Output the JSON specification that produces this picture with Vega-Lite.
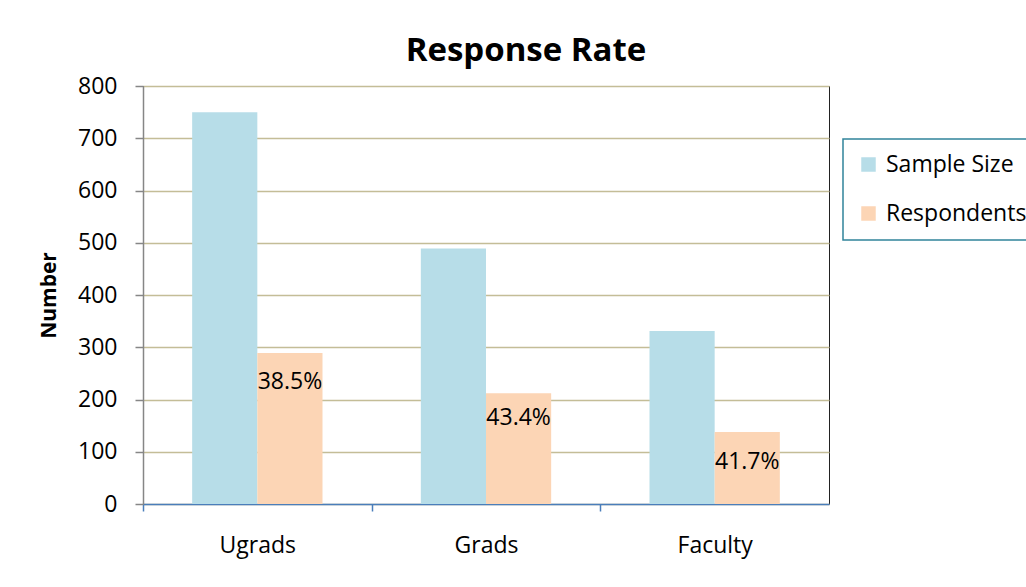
{
  "$schema": "https://vega.github.io/schema/vega-lite/v6.json",
  "autosize": "none",
  "padding": {"left": 143, "top": 86, "right": 197, "bottom": 83},
  "width": 686,
  "height": 418,
  "background": "white",
  "title": {
    "text": "Response Rate",
    "font": "Open Sans",
    "fontSize": 33,
    "fontWeight": "bold",
    "color": "black",
    "anchor": "middle",
    "dx": 40,
    "baseline": "alphabetic",
    "offset": -19
  },
  "data": {
    "values": [
      {"group": "Ugrads", "series": "Sample Size", "value": 750, "label": "", "labelAt": null},
      {"group": "Ugrads", "series": "Respondents", "value": 289, "label": "38.5%", "labelAt": 234},
      {"group": "Grads", "series": "Sample Size", "value": 489, "label": "", "labelAt": null},
      {"group": "Grads", "series": "Respondents", "value": 212, "label": "43.4%", "labelAt": 164},
      {"group": "Faculty", "series": "Sample Size", "value": 331, "label": "", "labelAt": null},
      {"group": "Faculty", "series": "Respondents", "value": 138, "label": "41.7%", "labelAt": 80}
    ]
  },
  "encoding": {
    "x": {
      "field": "group",
      "type": "nominal",
      "sort": ["Ugrads", "Grads", "Faculty"],
      "scale": {"paddingInner": 0.43, "paddingOuter": 0.215},
      "axis": {
        "title": null,
        "labelAngle": 0,
        "labelFont": "Open Sans",
        "labelFontSize": 23,
        "labelColor": "black",
        "labelPadding": 23,
        "domainColor": "#4A7EBB",
        "domainWidth": 1.5,
        "tickColor": "#4A7EBB",
        "tickWidth": 1.5,
        "tickSize": 7,
        "tickOffset": -114.33,
        "labelOffset": 114.33
      }
    },
    "xOffset": {
      "field": "series",
      "type": "nominal",
      "sort": ["Sample Size", "Respondents"],
      "scale": {"domain": ["Sample Size", "Respondents"], "paddingInner": 0, "paddingOuter": 0}
    }
  },
  "layer": [
    {
      "mark": {"type": "bar"},
      "encoding": {
        "y": {
          "field": "value",
          "type": "quantitative",
          "scale": {"domain": [0, 800], "nice": false},
          "axis": {
            "title": "Number",
            "titleFont": "Open Sans",
            "titleFontSize": 21,
            "titleFontWeight": "bold",
            "titleColor": "black",
            "titlePadding": 18,
            "values": [0, 100, 200, 300, 400, 500, 600, 700, 800],
            "labelFont": "Open Sans",
            "labelFontSize": 23,
            "labelColor": "black",
            "labelPadding": 18,
            "tickSize": 8,
            "tickColor": "#868686",
            "tickWidth": 1.5,
            "domainColor": "#868686",
            "domainWidth": 1.5,
            "gridColor": "#C4BD97",
            "gridWidth": 1.5
          }
        },
        "color": {
          "field": "series",
          "type": "nominal",
          "scale": {"domain": ["Sample Size", "Respondents"], "range": ["#B7DDE8", "#FCD5B5"]},
          "legend": {
            "title": null,
            "orient": "none",
            "legendX": 700,
            "legendY": 53,
            "padding": 14,
            "strokeColor": "#31849B",
            "fillColor": "white",
            "symbolType": "square",
            "symbolSize": 210,
            "symbolStrokeWidth": 0,
            "labelFont": "Open Sans",
            "labelFontSize": 23,
            "labelColor": "black",
            "labelOffset": 6,
            "rowPadding": 25
          }
        }
      }
    },
    {
      "transform": [{"filter": "datum.series === 'Respondents'"}],
      "mark": {"type": "text", "font": "Open Sans", "fontSize": 23, "color": "black", "align": "center", "baseline": "middle"},
      "encoding": {
        "y": {"field": "labelAt", "type": "quantitative"},
        "text": {"field": "label"}
      }
    }
  ],
  "config": {
    "view": {"stroke": "#222222", "strokeWidth": 1},
    "legend": {"strokeWidth": 1.5}
  }
}
